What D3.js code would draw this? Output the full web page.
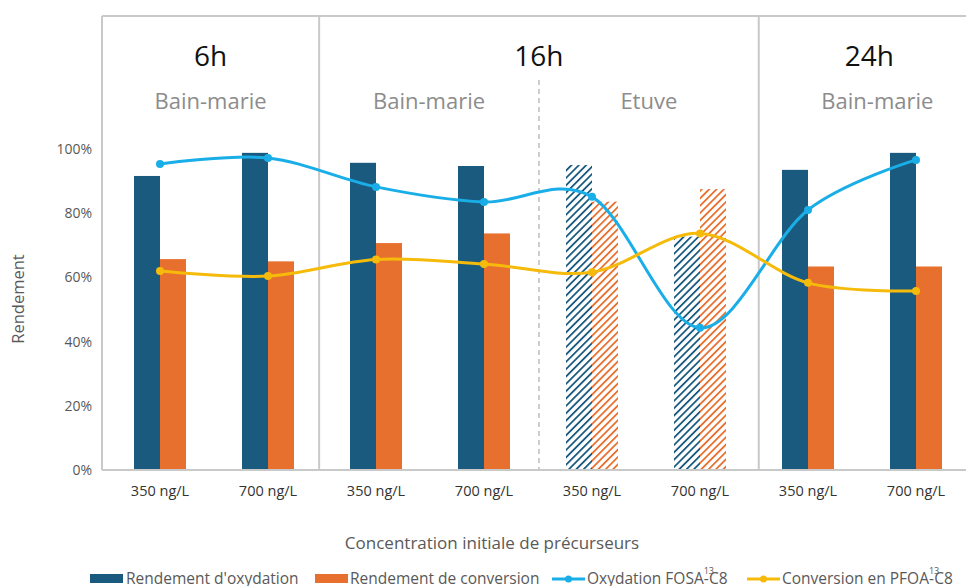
<!DOCTYPE html>
<html>
<head>
<meta charset="utf-8">
<script src="https://cdn.jsdelivr.net/npm/d3@7"></script>
<style>
  html, body { margin: 0; padding: 0; background: #ffffff; }
  svg { display: block; font-family: "Open Sans", "Noto Sans", sans-serif; }
</style>
</head>
<body>
<svg id="chart" width="966" height="586"></svg>
<script>
// Concentration levels (x categories)
const categories = ["350 ng/L", "700 ng/L", "350 ng/L", "700 ng/L", "350 ng/L", "700 ng/L", "350 ng/L", "700 ng/L"];
// Reaction duration per category and the heating method
const durations = ["6h", "6h", "16h", "16h", "16h", "16h", "24h", "24h"];
const methods = ["Bain-marie", "Bain-marie", "Bain-marie", "Bain-marie", "Etuve", "Etuve", "Bain-marie", "Bain-marie"];

// Bar series (yield, fraction)
const rendementOxydation = [0.916, 0.988, 0.957, 0.947, 0.950, 0.727, 0.935, 0.988];
const rendementConversion = [0.657, 0.650, 0.707, 0.737, 0.836, 0.875, 0.634, 0.634];

// Line series (fraction)
const oxydationFOSA = [0.953, 0.972, 0.882, 0.835, 0.851, 0.443, 0.810, 0.966];
const conversionPFOA = [0.620, 0.604, 0.656, 0.642, 0.616, 0.737, 0.583, 0.558];

const yTicks = [0, 0.2, 0.4, 0.6, 0.8, 1.0];

const colors = {
  oxy: "#1a5a7e",
  conv: "#e8702e",
  fosa: "#1aaee8",
  pfoa: "#f6bb0a",
  frame: "#c9c9c9",
  text: "#595959",
  sub: "#8c8c8c"
};

const svg = d3.select("#chart");

const plotLeft = 102, plotRight = 972, plotTop = 16, plotBottom = 470;

const x = d3.scaleBand()
  .domain(d3.range(categories.length))
  .range([106, 970])
  .paddingInner(0.5185)
  .paddingOuter(0.2593);

const xSub = d3.scaleBand().domain(["oxy", "conv"]).range([0, x.bandwidth()]);

const y = d3.scaleLinear().domain([0, 1]).range([plotBottom, 149]);

const cx = i => x(i) + x.bandwidth() / 2;

// Hatch patterns for the oven (Etuve) samples
const defs = svg.append("defs");
[["hatch-oxy", colors.oxy], ["hatch-conv", colors.conv]].forEach(([id, c]) => {
  const p = defs.append("pattern")
    .attr("id", id)
    .attr("patternUnits", "userSpaceOnUse")
    .attr("width", 5.2)
    .attr("height", 5.2)
    .attr("patternTransform", "rotate(45)");
  p.append("rect").attr("width", 5.2).attr("height", 5.2).attr("fill", "#fff");
  p.append("line")
    .attr("x1", 0).attr("y1", 0).attr("x2", 0).attr("y2", 5.2)
    .attr("stroke", c).attr("stroke-width", 3.6);
});

// Y axis tick labels
svg.append("g")
  .selectAll("text")
  .data(yTicks)
  .join("text")
  .attr("x", 92)
  .attr("y", d => y(d))
  .attr("dy", "0.35em")
  .attr("text-anchor", "end")
  .attr("font-size", 14)
  .attr("fill", colors.text)
  .text(d3.format(".0%"));

// Y axis title
svg.append("text")
  .attr("transform", `translate(24,${299}) rotate(-90)`)
  .attr("text-anchor", "middle")
  .attr("font-size", 16.5)
  .attr("fill", colors.text)
  .text("Rendement");

// Panel frame: top line, left edge and duration separators
const frame = svg.append("g").attr("stroke", colors.frame).attr("stroke-width", 2).attr("fill", "none");
frame.append("line").attr("x1", plotLeft).attr("x2", plotRight).attr("y1", plotTop).attr("y2", plotTop);
frame.append("line").attr("x1", plotLeft).attr("x2", plotLeft).attr("y1", plotTop).attr("y2", plotBottom);

const durationGroups = d3.groups(d3.range(categories.length), i => durations[i]);
const methodGroups = d3.groups(d3.range(categories.length), i => durations[i] + "|" + methods[i]);

// Separator between category b-1 and b, nudged slightly toward the later group
const boundaryBefore = b => (x(b - 1) + x.bandwidth() + x(b)) / 2 + (b - 3.5) * 1.9;

durationGroups.forEach(([, idx], gi) => {
  if (gi === 0) return;
  const bx = boundaryBefore(idx[0]);
  frame.append("line").attr("x1", bx).attr("x2", bx).attr("y1", plotTop).attr("y2", plotBottom);
});

// Dashed separator between heating methods inside a duration
methodGroups.forEach(([, idx], gi) => {
  if (gi === 0) return;
  const prev = idx[0] - 1;
  if (durations[prev] === durations[idx[0]]) {
    const bx = boundaryBefore(idx[0]);
    svg.append("line")
      .attr("x1", bx).attr("x2", bx).attr("y1", 80).attr("y2", plotBottom)
      .attr("stroke", "#bdbdbd").attr("stroke-width", 1.5).attr("stroke-dasharray", "5,4");
  }
});

const spanLeft = first => first === 0 ? plotLeft : boundaryBefore(first);
const spanRight = last => last === categories.length - 1 ? 996 : boundaryBefore(last + 1);

// Duration headers
durationGroups.forEach(([label, idx]) => {
  const last = idx[idx.length - 1];
  const right = last === categories.length - 1 ? 980 : spanRight(last);
  svg.append("text")
    .attr("x", (spanLeft(idx[0]) + right) / 2)
    .attr("y", 66)
    .attr("text-anchor", "middle")
    .attr("font-size", 28)
    .attr("fill", "#111")
    .text(label);
});

// Method sub-headers
methodGroups.forEach(([, idx]) => {
  const first = idx[0], last = idx[idx.length - 1];
  const mx = (spanLeft(first) + spanRight(last)) / 2;
  svg.append("text")
    .attr("x", mx)
    .attr("y", 109)
    .attr("text-anchor", "middle")
    .attr("font-size", 22)
    .attr("fill", colors.sub)
    .text(methods[first]);
});

// Bars
const barData = d3.range(categories.length).flatMap(i => [
  { i, key: "oxy", v: rendementOxydation[i] },
  { i, key: "conv", v: rendementConversion[i] }
]);

svg.append("g")
  .selectAll("rect")
  .data(barData)
  .join("rect")
  .attr("x", d => x(d.i) + xSub(d.key))
  .attr("width", xSub.bandwidth())
  .attr("y", d => y(d.v))
  .attr("height", d => y(0) - y(d.v))
  .attr("fill", d => methods[d.i] === "Etuve" ? `url(#hatch-${d.key})` : colors[d.key]);

// Bottom axis line
svg.append("line")
  .attr("x1", plotLeft).attr("x2", plotRight)
  .attr("y1", plotBottom).attr("y2", plotBottom)
  .attr("stroke", colors.frame).attr("stroke-width", 2);

// X tick labels
svg.append("g")
  .selectAll("text")
  .data(categories)
  .join("text")
  .attr("x", (d, i) => cx(i))
  .attr("y", 496)
  .attr("text-anchor", "middle")
  .attr("font-size", 14.5)
  .attr("fill", "#333")
  .text(d => d);

// X axis title
svg.append("text")
  .attr("x", 492)
  .attr("y", 549)
  .attr("text-anchor", "middle")
  .attr("font-size", 17)
  .attr("fill", colors.text)
  .text("Concentration initiale de précurseurs");

// Smoothed lines with markers
const line = d3.line()
  .x((d, i) => cx(i))
  .y(d => y(d))
  .curve(d3.curveCatmullRom.alpha(0));

[[oxydationFOSA, colors.fosa], [conversionPFOA, colors.pfoa]].forEach(([vals, c]) => {
  svg.append("path")
    .datum(vals)
    .attr("d", line)
    .attr("fill", "none")
    .attr("stroke", c)
    .attr("stroke-width", 3);
  svg.append("g")
    .selectAll("circle")
    .data(vals)
    .join("circle")
    .attr("cx", (d, i) => cx(i))
    .attr("cy", d => y(d))
    .attr("r", 4)
    .attr("fill", c);
});

// Legend
const legend = svg.append("g").attr("font-size", 15.5).attr("fill", colors.text);
const ly = 579;

legend.append("rect").attr("x", 90).attr("y", ly - 5).attr("width", 33).attr("height", 9).attr("fill", colors.oxy);
legend.append("text").attr("x", 126).attr("y", ly).attr("dy", "0.35em").text("Rendement d'oxydation");

legend.append("rect").attr("x", 315).attr("y", ly - 5).attr("width", 33).attr("height", 9).attr("fill", colors.conv);
legend.append("text").attr("x", 350).attr("y", ly).attr("dy", "0.35em").text("Rendement de conversion");

function lineKey(x0, c, labelParts) {
  legend.append("line").attr("x1", x0).attr("x2", x0 + 33).attr("y1", ly).attr("y2", ly)
    .attr("stroke", c).attr("stroke-width", 3);
  legend.append("circle").attr("cx", x0 + 16.5).attr("cy", ly).attr("r", 3.5).attr("fill", c);
  const t = legend.append("text").attr("x", x0 + 35).attr("y", ly).attr("dy", "0.35em");
  t.append("tspan").text(labelParts[0]);
  t.append("tspan").attr("font-size", 9).attr("dx", -5).attr("dy", -10).text("13");
  t.append("tspan").attr("dx", -5).attr("dy", 10).text(labelParts[1]);
}
lineKey(552, colors.fosa, ["Oxydation FOSA-", "C8"]);
lineKey(747, colors.pfoa, ["Conversion en PFOA-", "C8"]);
</script>
</body>
</html>
